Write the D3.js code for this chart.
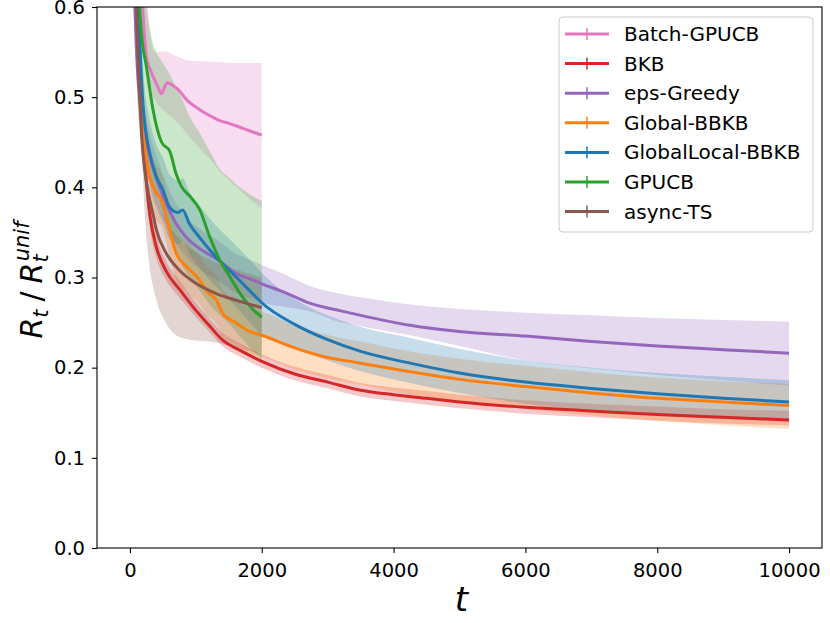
<!DOCTYPE html>
<html>
<head>
<meta charset="utf-8">
<script src="https://cdn.jsdelivr.net/npm/d3@7"></script>
<style>
  body { margin: 0; background: #fff; }
  text { font-family: "DejaVu Sans", sans-serif; }
</style>
</head>
<body>
<script>
const width = 830
const height = 623

// x ticks / y ticks
const xTicks = [0, 2000, 4000, 6000, 8000, 10000]
const yTicks = [0.0, 0.1, 0.2, 0.3, 0.4, 0.5, 0.6]

const names = ["Batch-GPUCB", "BKB", "eps-Greedy", "Global-BBKB", "GlobalLocal-BBKB", "GPUCB", "async-TS"]
const colors = ["#e377c2", "#d62728", "#9467bd", "#ff7f0e", "#1f77b4", "#2ca02c", "#8c564b"]

// Batch-GPUCB
const pinkT = [50, 100, 150, 200, 250, 300, 350, 420, 480, 530, 570, 650, 725, 860, 1000, 1100, 1250, 1360, 1500, 1620, 1800, 2000]
const pinkMean = [1.2, 0.8, 0.66, 0.59, 0.545, 0.532, 0.523, 0.512, 0.504, 0.512, 0.516, 0.513, 0.509, 0.497, 0.489, 0.484, 0.478, 0.474, 0.471, 0.468, 0.463, 0.458]
const pinkHi = [1.3, 0.95, 0.8, 0.7, 0.62, 0.575, 0.553, 0.55, 0.551, 0.551, 0.55, 0.547, 0.545, 0.541, 0.54, 0.54, 0.539, 0.539, 0.538, 0.538, 0.538, 0.538]
const pinkLo = [1.0, 0.7, 0.6, 0.56, 0.53, 0.51, 0.5, 0.493, 0.487, 0.484, 0.482, 0.477, 0.472, 0.46, 0.448, 0.44, 0.428, 0.418, 0.408, 0.4, 0.388, 0.377]

// BKB
const redT = [50, 100, 150, 200, 250, 300, 400, 550, 750, 950, 1200, 1400, 1700, 2000, 2500, 3000, 3500, 4000, 4500, 5000, 6000, 7000, 8000, 9000, 10000]
const redMean = [1.2, 0.6, 0.5, 0.45, 0.405, 0.37, 0.334, 0.307, 0.287, 0.268, 0.247, 0.231, 0.218, 0.207, 0.193, 0.184, 0.175, 0.17, 0.166, 0.162, 0.156, 0.152, 0.148, 0.145, 0.142]
const redLo = [1.1, 0.57, 0.475, 0.43, 0.39, 0.356, 0.322, 0.297, 0.278, 0.26, 0.24, 0.224, 0.211, 0.2, 0.186, 0.177, 0.168, 0.163, 0.159, 0.155, 0.149, 0.145, 0.141, 0.138, 0.136]
const redHi = [1.3, 0.63, 0.525, 0.47, 0.42, 0.385, 0.347, 0.318, 0.297, 0.277, 0.255, 0.239, 0.226, 0.215, 0.201, 0.192, 0.183, 0.178, 0.174, 0.17, 0.164, 0.16, 0.157, 0.154, 0.152]

// eps-Greedy
const purpT = [50, 100, 200, 300, 450, 550, 700, 850, 1100, 1350, 1600, 1870, 2000, 2300, 2750, 3200, 3500, 4250, 5000, 6000, 7000, 8000, 9000, 10000]
const purpMean = [0.65, 0.55, 0.47, 0.435, 0.40, 0.382, 0.36, 0.345, 0.33, 0.319, 0.305, 0.297, 0.293, 0.285, 0.271, 0.263, 0.258, 0.247, 0.24, 0.235, 0.229, 0.224, 0.22, 0.216]
const purpHi = [0.7, 0.58, 0.5, 0.46, 0.425, 0.405, 0.382, 0.367, 0.352, 0.34, 0.327, 0.318, 0.314, 0.305, 0.29, 0.282, 0.278, 0.27, 0.265, 0.261, 0.258, 0.255, 0.253, 0.251]
const purpLo = [0.6, 0.52, 0.44, 0.41, 0.375, 0.36, 0.338, 0.323, 0.307, 0.296, 0.283, 0.276, 0.272, 0.268, 0.262, 0.25, 0.246, 0.236, 0.224, 0.208, 0.199, 0.192, 0.186, 0.18]

// Global-BBKB
const orT = [50, 100, 150, 200, 275, 400, 480, 600, 700, 860, 1060, 1160, 1310, 1410, 1600, 1820, 2000, 2500, 2900, 3500, 4250, 5000, 6000, 7000, 8000, 9000, 10000]
const orMean = [1.2, 0.65, 0.52, 0.46, 0.419, 0.394, 0.386, 0.353, 0.327, 0.312, 0.297, 0.285, 0.275, 0.26, 0.25, 0.24, 0.236, 0.222, 0.213, 0.205, 0.1955, 0.187, 0.179, 0.172, 0.166, 0.162, 0.158]
const orHi = [1.3, 0.69, 0.555, 0.495, 0.45, 0.425, 0.415, 0.382, 0.356, 0.34, 0.324, 0.312, 0.302, 0.287, 0.276, 0.265, 0.262, 0.247, 0.238, 0.229, 0.218, 0.21, 0.202, 0.195, 0.189, 0.185, 0.182]
const orLo = [1.1, 0.61, 0.485, 0.425, 0.388, 0.363, 0.357, 0.324, 0.298, 0.284, 0.27, 0.259, 0.249, 0.235, 0.226, 0.216, 0.212, 0.198, 0.19, 0.181, 0.17, 0.162, 0.154, 0.147, 0.141, 0.136, 0.132]

// GlobalLocal-BBKB
const blT = [50, 100, 150, 200, 300, 400, 500, 600, 730, 800, 900, 1050, 1300, 1550, 1850, 2000, 2500, 3000, 3500, 4250, 5000, 6000, 7000, 8000, 9000, 10000]
const blMean = [1.2, 0.68, 0.56, 0.49, 0.438, 0.412, 0.397, 0.378, 0.372, 0.375, 0.36, 0.345, 0.323, 0.305, 0.283, 0.272, 0.248, 0.231, 0.218, 0.205, 0.194, 0.184, 0.177, 0.171, 0.166, 0.162]
const blHi = [1.3, 0.72, 0.6, 0.53, 0.475, 0.448, 0.433, 0.414, 0.408, 0.41, 0.395, 0.38, 0.358, 0.34, 0.317, 0.305, 0.276, 0.258, 0.245, 0.233, 0.221, 0.208, 0.2, 0.194, 0.19, 0.186]
const blLo = [1.1, 0.64, 0.52, 0.455, 0.403, 0.378, 0.362, 0.343, 0.337, 0.34, 0.326, 0.311, 0.29, 0.272, 0.248, 0.236, 0.222, 0.208, 0.196, 0.183, 0.172, 0.16, 0.152, 0.147, 0.143, 0.14]

// GPUCB
const grT = [50, 100, 175, 250, 350, 480, 605, 700, 780, 910, 1060, 1210, 1365, 1515, 1665, 1820, 2000]
const grMean = [1.2, 0.68, 0.571, 0.534, 0.486, 0.45, 0.44, 0.415, 0.401, 0.39, 0.375, 0.345, 0.319, 0.301, 0.283, 0.268, 0.256]
const grHi = [1.3, 0.78, 0.66, 0.6, 0.56, 0.54, 0.525, 0.511, 0.5, 0.478, 0.46, 0.44, 0.42, 0.41, 0.4, 0.392, 0.385]
const grLo = [1.1, 0.6, 0.5, 0.45, 0.41, 0.375, 0.35, 0.33, 0.315, 0.3, 0.285, 0.27, 0.258, 0.248, 0.235, 0.222, 0.208]

// async-TS
const brT = [50, 100, 150, 175, 225, 300, 350, 400, 550, 750, 1000, 1300, 1600, 2000]
const brMean = [1.2, 0.6, 0.5, 0.46, 0.419, 0.386, 0.37, 0.353, 0.327, 0.308, 0.2935, 0.2825, 0.275, 0.2665]
const brLo = [1.0, 0.52, 0.46, 0.44, 0.37, 0.31, 0.29, 0.275, 0.249, 0.234, 0.23, 0.228, 0.222, 0.215]
const brHi = [1.3, 0.68, 0.55, 0.5, 0.46, 0.425, 0.408, 0.39, 0.362, 0.343, 0.328, 0.317, 0.309, 0.3]

const seriesT = [pinkT, redT, purpT, orT, blT, grT, brT]
const seriesMean = [pinkMean, redMean, purpMean, orMean, blMean, grMean, brMean]
const seriesLo = [pinkLo, redLo, purpLo, orLo, blLo, grLo, brLo]
const seriesHi = [pinkHi, redHi, purpHi, orHi, blHi, grHi, brHi]

const series = names.map((name, i) => ({
  name: name,
  color: colors[i],
  points: seriesT[i].map((t, j) => ({t: t, m: seriesMean[i][j], lo: seriesLo[i][j], hi: seriesHi[i][j]}))
}))

const plotLeft = 97, plotRight = 822, plotTop = 7, plotBottom = 548

const x = d3.scaleLinear().domain([-500, 10500]).range([plotLeft, plotRight])
const y = d3.scaleLinear().domain([0, 0.6]).range([plotBottom, plotTop])

const svg = d3.select('body').append('svg')
  .attr('width', width)
  .attr('height', height)

svg.append('defs').append('clipPath').attr('id', 'plotclip')
  .append('rect')
  .attr('x', plotLeft).attr('y', plotTop)
  .attr('width', plotRight - plotLeft).attr('height', plotBottom - plotTop)

const plot = svg.append('g').attr('clip-path', 'url(#plotclip)')

const area = d3.area()
  .x(d => x(d.t))
  .y0(d => y(d.lo))
  .y1(d => y(d.hi))
  .curve(d3.curveMonotoneX)

const line = d3.line()
  .x(d => x(d.t))
  .y(d => y(d.m))
  .curve(d3.curveMonotoneX)

// bands first, in legend order
plot.append('g')
  .selectAll('path')
  .data(series)
  .enter()
  .append('path')
  .attr('d', d => area(d.points))
  .attr('fill', d => d.color)
  .attr('fill-opacity', 0.25)
  .attr('stroke', 'none')

plot.append('g')
  .selectAll('path')
  .data(series)
  .enter()
  .append('path')
  .attr('d', d => line(d.points))
  .attr('fill', 'none')
  .attr('stroke', d => d.color)
  .attr('stroke-width', 3)
  .attr('stroke-linejoin', 'round')
  .attr('stroke-linecap', 'butt')

// axes
const xAxis = d3.axisBottom(x)
  .tickValues(xTicks)
  .tickFormat(d3.format('d'))
  .tickSize(5)
  .tickPadding(10)
  .tickSizeOuter(0)

const yAxis = d3.axisLeft(y)
  .tickValues(yTicks)
  .tickFormat(d3.format('.1f'))
  .tickSize(5)
  .tickPadding(7)
  .tickSizeOuter(0)

const gx = svg.append('g').attr('transform', `translate(0,${plotBottom})`).call(xAxis)
const gy = svg.append('g').attr('transform', `translate(${plotLeft},0)`).call(yAxis)

;[gx, gy].forEach(g => {
  g.select('.domain').remove()
  g.selectAll('line').attr('stroke', '#000').attr('stroke-width', 1.1)
  g.selectAll('text')
    .attr('fill', '#000')
    .style('font-family', '"DejaVu Sans", sans-serif')
    .style('font-size', '19.5px')
})

svg.append('rect')
  .attr('x', plotLeft).attr('y', plotTop)
  .attr('width', plotRight - plotLeft).attr('height', plotBottom - plotTop)
  .attr('fill', 'none')
  .attr('stroke', '#000')
  .attr('stroke-width', 1.1)

// axis labels
svg.append('text')
  .attr('x', (plotLeft + plotRight) / 2 + 2)
  .attr('y', 611)
  .attr('text-anchor', 'middle')
  .style('font-size', '34px')
  .style('font-style', 'italic')
  .text('t')

const ylab = svg.append('text')
  .attr('transform', 'translate(42,280) rotate(-90)')
  .attr('text-anchor', 'middle')
  .style('font-size', '30px')
  .style('font-style', 'italic')
ylab.append('tspan').text('R')
ylab.append('tspan').attr('dy', 6).style('font-size', '21px').text('t')
ylab.append('tspan').attr('dy', -6).attr('dx', 8).style('font-style', 'normal').text('/')
ylab.append('tspan').attr('dx', 8).text('R')
ylab.append('tspan').attr('dy', 6).style('font-size', '21px').text('t')
ylab.append('tspan').attr('dx', -7).attr('dy', -19).style('font-size', '21px').text('unif')

// legend
const lg = svg.append('g')
lg.append('rect')
  .attr('x', 559).attr('y', 17)
  .attr('width', 254).attr('height', 215)
  .attr('rx', 4)
  .attr('fill', '#fff').attr('fill-opacity', 0.8)
  .attr('stroke', '#cccccc').attr('stroke-width', 1)

const rows = lg.selectAll('g.row')
  .data(series)
  .enter()
  .append('g')
  .attr('class', 'row')
  .attr('transform', (d, i) => `translate(0,${34 + i * 29.6})`)

rows.append('line')
  .attr('x1', 565).attr('x2', 609)
  .attr('stroke', d => d.color).attr('stroke-width', 3)
rows.append('line')
  .attr('x1', 587).attr('x2', 587).attr('y1', -6).attr('y2', 6)
  .attr('stroke', d => d.color).attr('stroke-width', 1.5)
rows.append('text')
  .attr('x', 624).attr('y', 7)
  .style('font-size', '20px')
  .attr('fill', '#000')
  .text(d => d.name)
</script>
</body>
</html>
